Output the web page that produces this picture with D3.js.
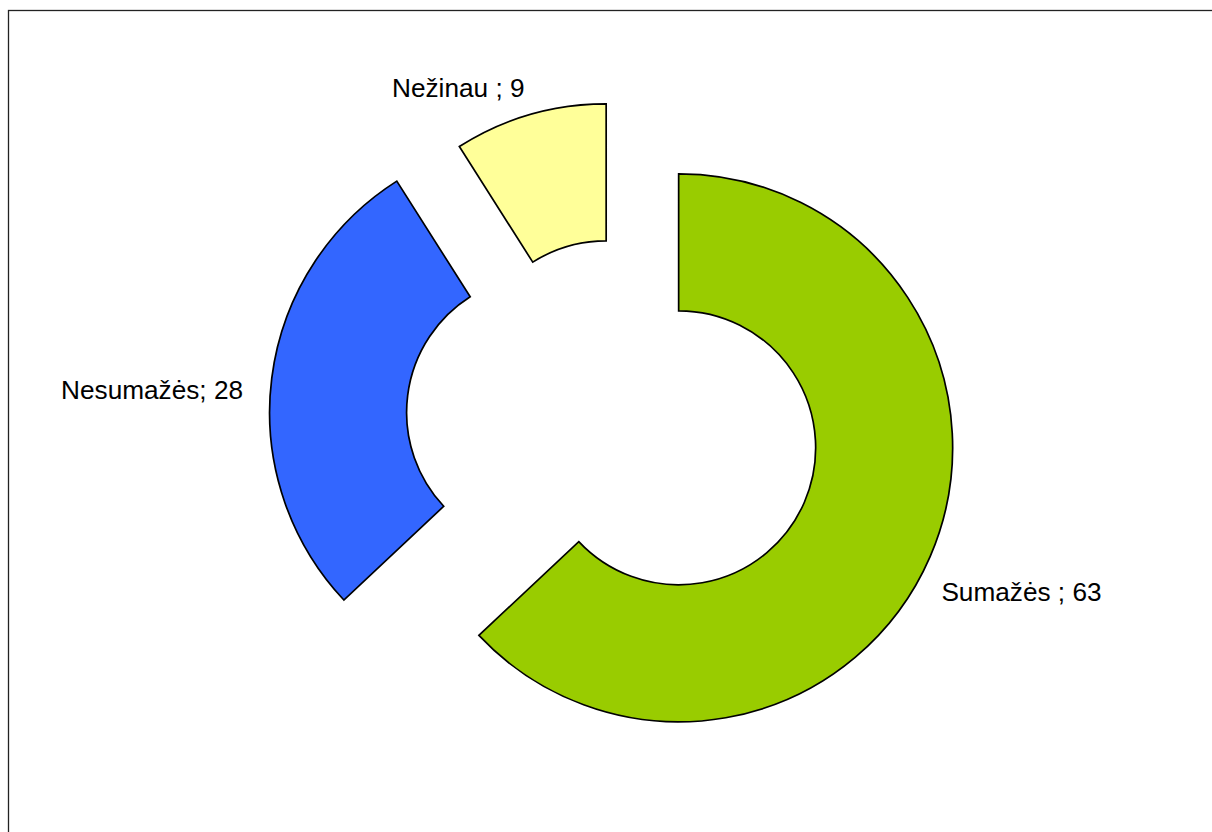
<!DOCTYPE html>
<html>
<head>
<meta charset="utf-8">
<script src="https://cdn.jsdelivr.net/npm/d3@7"></script>
<style>
  html, body { margin: 0; padding: 0; background: #fff; }
  svg { display: block; }
</style>
</head>
<body>
<svg id="chart" width="1212" height="832"></svg>
<script>
// Survey answers (percent)
const categories = ["Sumažės", "Nesumažės", "Nežinau"];
const values = [63, 28, 9];
const labelTexts = ["Sumažės ; 63", "Nesumažės; 28", "Nežinau ; 9"];

const colors = ["#99cc00", "#3366ff", "#ffff99"];
// how far each ring segment is pulled out from the common centre, px
const explode = [65, 76, 46];

const W = 1212, H = 832;
const cx = 619, cy = 422;
const outerR = 274, innerR = 137;

const svg = d3.select("#chart");

// outer frame (right and bottom edges run past the page)
svg.append("rect")
  .attr("x", 8.5).attr("y", 10.5)
  .attr("width", W + 20).attr("height", H + 20)
  .attr("fill", "#fff")
  .attr("stroke", "#222").attr("stroke-width", 1.3);

const pie = d3.pie().sort(null).value(d => d.value);
const arcs = pie(categories.map((c, i) => ({ name: c, value: values[i], i })));

const arc = d3.arc().innerRadius(innerR).outerRadius(outerR);

const g = svg.append("g").attr("transform", `translate(${cx},${cy})`);

arcs.forEach(a => {
  const i = a.data.i;
  const mid = (a.startAngle + a.endAngle) / 2;
  const ux = Math.sin(mid), uy = -Math.cos(mid);
  const ox = explode[i] * ux, oy = explode[i] * uy;

  const sg = g.append("g").attr("transform", `translate(${ox},${oy})`);
  sg.append("path")
    .attr("d", arc(a))
    .attr("fill", colors[i])
    .attr("stroke", "#000")
    .attr("stroke-width", 1.7)
    .attr("stroke-linejoin", "miter");

  // label placed outside the ring along the segment's bisector
  const lrx = outerR + 33, lry = outerR + 26;
  const lx = lrx * ux + (ux >= 0 ? -19 : 4);
  const ly = lry * uy + 17 + 20 * uy;
  sg.append("text")
    .attr("x", lx).attr("y", ly)
    .attr("dy", "0.36em")
    .attr("text-anchor", ux >= 0 ? "start" : "end")
    .attr("font-family", "Liberation Sans, Arial, sans-serif")
    .attr("font-size", 26.2)
    .attr("fill", "#000")
    .text(labelTexts[i]);
});
</script>
</body>
</html>
